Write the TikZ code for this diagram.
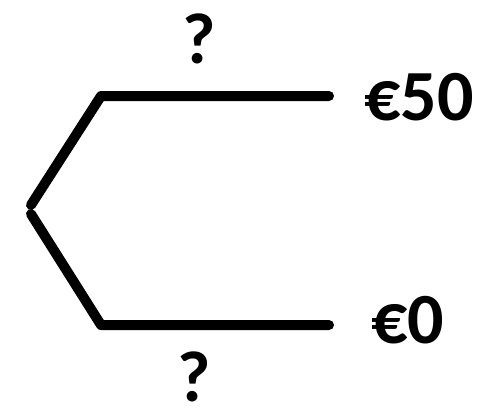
\documentclass[tikz,border=0pt]{standalone}
\usepackage{fontspec}
\setmainfont{Carlito}
\usepackage{tikz}
\usetikzlibrary{positioning,calc}
\tikzset{
  branch/.style={draw=black,line width=5pt,line cap=round,line join=round},
  pay/.style={font=\fontsize{36}{40}\selectfont\bfseries,inner sep=0pt,anchor=base west},
  qm/.style={font=\fontsize{36}{40}\selectfont\bfseries,inner sep=0pt,anchor=base},
}
\begin{document}
\begin{tikzpicture}[x=0.5pt,y=-0.5pt]
\useasboundingbox (0,0) rectangle (481,419);
\coordinate (rootup) at (31,205);
\coordinate (rootdn) at (31,214);
\coordinate (up) at (101,96);
\coordinate (upend) at (329,96);
\coordinate (dn) at (101,325);
\coordinate (dnend) at (329,325);
\node[pay] (win) at (364,120) {€50};
\node[pay] (lose) at (371,343) {€0};
\node[qm] (pup) at (199,63) {?};
\node[qm] (pdn) at (194,401) {?};
\draw[branch] (rootup)--(up)--(upend);
\draw[branch] (rootdn)--(dn)--(dnend);
\end{tikzpicture}
\end{document}
